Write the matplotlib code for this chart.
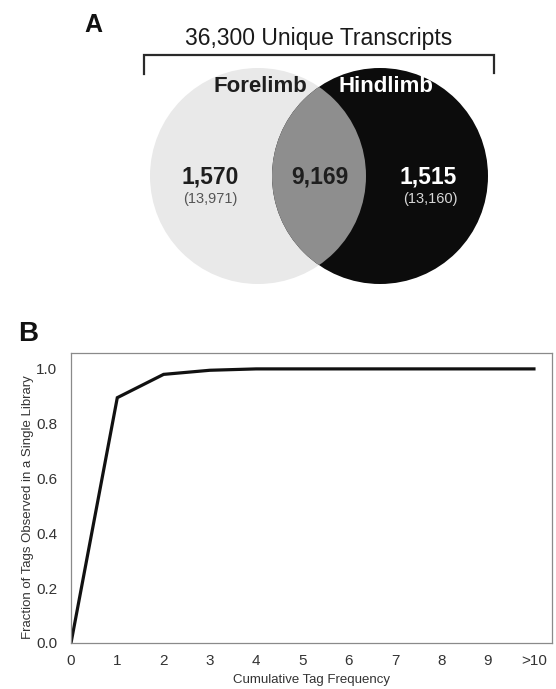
import matplotlib
matplotlib.use("Agg")
import matplotlib.pyplot as plt
from matplotlib.patches import Circle
import numpy as np

plt.rcParams['font.family'] = ['Liberation Sans', 'DejaVu Sans']

# ---- data ----
venn_title = "36,300 Unique Transcripts"
set_names = ["Forelimb", "Hindlimb"]
unique_counts = ["1,570", "1,515"]
total_counts = ["(13,971)", "(13,160)"]
shared_count = "9,169"

freq_labels = ["0", "1", "2", "3", "4", "5", "6", "7", "8", "9", ">10"]
fraction_single = [0.0, 0.895, 0.98, 0.995, 1.0, 1.0, 1.0, 1.0, 1.0, 1.0, 1.0]

W, H = 556, 689
fig = plt.figure(figsize=(W / 100, H / 100), dpi=100)

# ---- Panel A: Venn (pixel coordinate axes) ----
axv = fig.add_axes([0, 0, 1, 1])
axv.set_xlim(0, W)
axv.set_ylim(H, 0)
axv.axis('off')

r = 108
cl = (258, 176)
cr = (380, 176)
left = Circle(cl, r, facecolor='#e9e9e9', edgecolor='none', zorder=1)
right = Circle(cr, r, facecolor='#0c0c0c', edgecolor='none', zorder=2)
axv.add_patch(left)
axv.add_patch(right)
lens = Circle(cl, r, facecolor='#8e8e8e', edgecolor='none', zorder=3)
axv.add_patch(lens)
clipc = Circle(cr, r, transform=axv.transData)
lens.set_clip_path(clipc)

# bracket
axv.plot([144, 144, 494, 494], [74, 54.5, 54.5, 73], color='#2a2a2a', lw=1.6,
         solid_joinstyle='miter', zorder=4)
axv.text(319, 38, venn_title, ha='center', va='center', fontsize=16.5, color='#1a1a1a', zorder=5)
axv.text(93, 25, "A", ha='center', va='center', fontsize=18, fontweight='bold', color='#111', zorder=5)

axv.text(260, 87, set_names[0], ha='center', va='center', fontsize=16, fontweight='bold', color='#1e1e1e', zorder=5)
axv.text(386, 87, set_names[1], ha='center', va='center', fontsize=16, fontweight='bold', color='white', zorder=5)

axv.text(210, 177, unique_counts[0], ha='center', va='center', fontsize=16.5, fontweight='bold', color='#1e1e1e', zorder=5)
axv.text(210, 199, total_counts[0], ha='center', va='center', fontsize=10.5, color='#555555', zorder=5)
axv.text(320, 177, shared_count, ha='center', va='center', fontsize=16.5, fontweight='bold', color='#1e1e1e', zorder=5)
axv.text(428, 177, unique_counts[1], ha='center', va='center', fontsize=16.5, fontweight='bold', color='white', zorder=5)
axv.text(430, 199, total_counts[1], ha='center', va='center', fontsize=10.5, color='#d8d8d8', zorder=5)

axv.text(28, 334, "B", ha='center', va='center', fontsize=20, fontweight='bold', color='#111', zorder=5)

# ---- Panel B: line chart ----
ax = fig.add_axes([71 / W, 1 - 643 / H, (552 - 71) / W, (643 - 353) / H])
x = np.arange(len(fraction_single))
ax.plot(x, fraction_single, color='#111111', lw=2.3, solid_joinstyle='miter')
ax.set_xlim(0, 10.39)
ax.set_ylim(0, 1.058)
ax.set_xticks(x)
ax.set_xticklabels(freq_labels)
ax.set_yticks([0.0, 0.2, 0.4, 0.6, 0.8, 1.0])
ax.set_yticklabels(["0.0", "0.2", "0.4", "0.6", "0.8", "1.0"])
ax.tick_params(axis='both', length=0, labelsize=11, colors='#333333')
ax.tick_params(axis='x', pad=8)
ax.tick_params(axis='y', pad=10)
for s in ax.spines.values():
    s.set_color('#8a8a8a')
    s.set_linewidth(0.9)
ax.set_xlabel("Cumulative Tag Frequency", fontsize=9.5, color='#333333', va='center')
ax.xaxis.set_label_coords(0.501, -(680.5 - 643) / 290)
ax.set_ylabel("Fraction of Tags Observed in a Single Library", fontsize=9.5, color='#333333', va='center')
ax.yaxis.set_label_coords((28 - 71) / 481, 0.47)

fig.savefig("out.png", dpi=100)
